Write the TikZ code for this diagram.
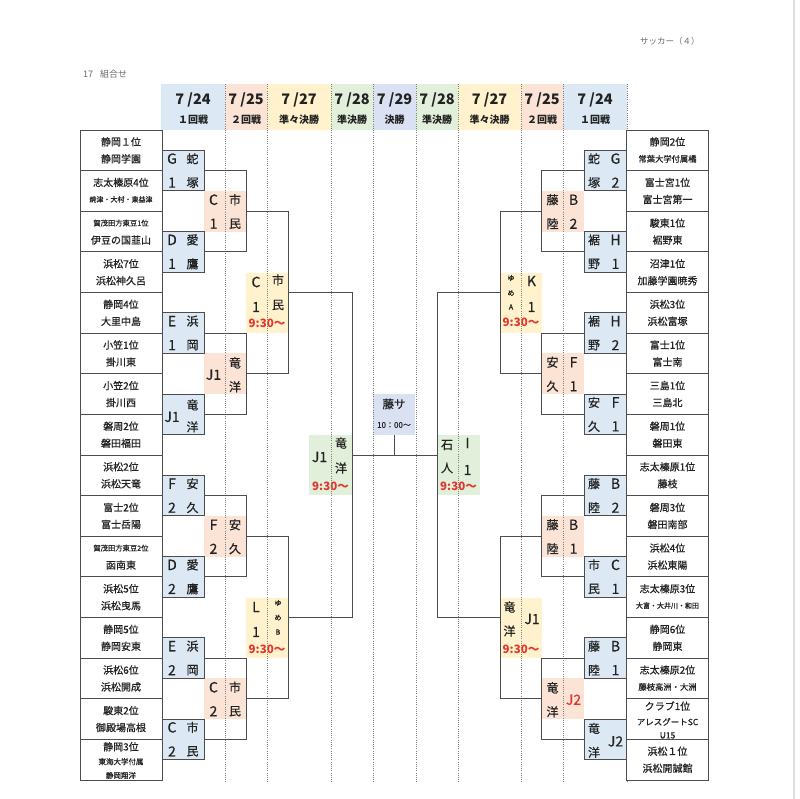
\documentclass[tikz,border=0pt]{standalone}
\usepackage{fontspec}
\setmainfont{Noto Sans CJK JP}
\newfontfamily\jpm{Noto Sans CJK JP}[FakeBold=0.6]
\usetikzlibrary{calc}
\definecolor{cblue}{HTML}{DCE9F5}
\definecolor{cpink}{HTML}{FBE3D6}
\definecolor{cyel}{HTML}{FFF2CC}
\definecolor{cgreen}{HTML}{E2EFDA}
\definecolor{clav}{HTML}{D9E1F2}
\definecolor{linec}{HTML}{4D4D4D}
\definecolor{tcol}{HTML}{222222}
\definecolor{cred}{HTML}{E0362C}
\newcommand\RowB[1]{(130+40.625*(#1))}
\newcommand\sm{\fontsize{7}{8}\selectfont}
\newcommand\smm{\fontsize{8.3}{9}\selectfont}
% team box: name, cx, row, line1, line2
\newcommand\Team[5]{%
 \node[team] (#1) at (#2,{\RowB{#3}-20.3125}) {};
 \node[tt] (#1a) at (#2,{\RowB{#3}-28.8}) {#4};
 \node[tt] (#1b) at (#2,{\RowB{#3}-11.8}) {#5};}
% left round 1
\newcommand\LRone[6]{%
 \node[r1] (#1) at (183,{\RowB{#2}}) {};
 \node[big] (#1x) at (172,{\RowB{#2}-12}) {#3};
 \node[big] (#1y) at (172,{\RowB{#2}+12}) {#4};
 \node[kj] (#1z) at (192.5,{\RowB{#2}-12}) {#5};
 \node[kj] (#1w) at (192.5,{\RowB{#2}+12}) {#6};}
% right round 1
\newcommand\RRone[6]{%
 \node[r1] (#1) at (605.5,{\RowB{#2}}) {};
 \node[kj] (#1z) at (594,{\RowB{#2}-12}) {#3};
 \node[kj] (#1w) at (594,{\RowB{#2}+12}) {#4};
 \node[big] (#1x) at (615.5,{\RowB{#2}-12}) {#5};
 \node[big] (#1y) at (615.5,{\RowB{#2}+12}) {#6};}
% left round 2
\newcommand\LRtwo[6]{%
 \node[r2] (#1) at (225,{\RowB{#2}}) {};
 \node[big] (#1x) at (213.5,{\RowB{#2}-11.5}) {#3};
 \node[big] (#1y) at (213.5,{\RowB{#2}+12.5}) {#4};
 \node[kj] (#1z) at (235,{\RowB{#2}-11.5}) {#5};
 \node[kj] (#1w) at (235,{\RowB{#2}+12.5}) {#6};}
% right round 2
\newcommand\RRtwo[6]{%
 \node[r2] (#1) at (563,{\RowB{#2}}) {};
 \node[kj] (#1z) at (552.5,{\RowB{#2}-11.5}) {#3};
 \node[kj] (#1w) at (552.5,{\RowB{#2}+12.5}) {#4};
 \node[big] (#1x) at (573.5,{\RowB{#2}-11.5}) {#5};
 \node[big] (#1y) at (573.5,{\RowB{#2}+12.5}) {#6};}
% header cell: name, cx, width, colour, date, round
\newcommand\Hd[6]{%
 \node[hd,fill=#4,minimum width=#3pt] (#1) at (#2,107) {};
 \node[hdate] (#1d) at (#2,100) {#5};
 \node[hround] (#1r) at (#2,119.5) {#6};}
\begin{document}
\begin{tikzpicture}[x=1pt,y=-1pt,
  team/.style={draw=linec,line width=0.9pt,fill=white,minimum width=82pt,minimum height=40.625pt,inner sep=0pt},
  r1/.style={draw=linec,line width=0.9pt,fill=cblue,minimum width=42pt,minimum height=40.6pt,inner sep=0pt},
  r2/.style={fill=cpink,minimum width=42pt,minimum height=41pt,inner sep=0pt},
  qf/.style={fill=cyel,minimum width=42pt,minimum height=60pt,inner sep=0pt},
  sf/.style={fill=cgreen,minimum width=43pt,minimum height=60pt,inner sep=0pt},
  fin/.style={fill=clav,minimum width=42pt,minimum height=41pt,inner sep=0pt},
  hd/.style={minimum height=46pt,inner sep=0pt},
  hdate/.style={inner sep=0pt,text=tcol,font=\bfseries\fontsize{14.5}{16}\selectfont},
  hround/.style={inner sep=0pt,text=tcol,font=\bfseries\fontsize{10}{12}\selectfont},
  tt/.style={inner sep=0pt,text=tcol,font=\jpm\fontsize{10}{12}\selectfont},
  big/.style={inner sep=0pt,text=tcol,font=\jpm\fontsize{14}{16}\selectfont},
  kj/.style={inner sep=0pt,text=tcol,font=\jpm\fontsize{12}{14}\selectfont},
  tinyt/.style={inner sep=0pt,text=tcol,font=\jpm\fontsize{7}{8}\selectfont},
  tm/.style={inner sep=0pt,text=cred,font=\bfseries\fontsize{11.5}{13}\selectfont},
  br/.style={draw=linec,line width=0.9pt},
  dotl/.style={draw=gray,line width=0.6pt,dash pattern=on 0.9pt off 1.3pt},
  note/.style={inner sep=0pt,text=gray!85!black,font=\fontsize{9}{11}\selectfont,anchor=west}
]
\useasboundingbox[fill=white] (0,0) rectangle (800,799);
\draw[gray!25,line width=1.5pt] (794,0) -- (794,799);

% titles
\node[note] (title) at (83,74) {17\hspace{7pt}組合せ};
\node[note,font=\fontsize{8.5}{10}\selectfont] (page) at (640,41) {サッカー（４）};

% header
\Hd{h1}{193}{64}{cblue}{7 /24}{１回戦}
\Hd{h2}{246}{42}{cpink}{7 /25}{２回戦}
\Hd{h3}{299}{64}{cyel}{7 /27}{準々決勝}
\Hd{h4}{352}{42}{cgreen}{7 /28}{準決勝}
\Hd{h5}{394.5}{43}{clav}{7 /29}{決勝}
\Hd{h6}{437}{42}{cgreen}{7 /28}{準決勝}
\Hd{h7}{489.5}{63}{cyel}{7 /27}{準々決勝}
\Hd{h8}{542}{42}{cpink}{7 /25}{２回戦}
\Hd{h9}{595}{64}{cblue}{7 /24}{１回戦}

% round 2
\LRtwo{LB1}{2}{C}{1}{市}{民}
\node[r2] (LB2) at (225,{\RowB{6}}) {};
\node[big] (LB2x) at (213.5,{\RowB{6}+1}) {J1};
\node[kj] (LB2z) at (235,{\RowB{6}-11}) {竜};
\node[kj] (LB2w) at (235,{\RowB{6}+13}) {洋};
\LRtwo{LB3}{10}{F}{2}{安}{久}
\LRtwo{LB4}{14}{C}{2}{市}{民}
\RRtwo{RB1}{2}{藤}{陸}{B}{2}
\RRtwo{RB2}{6}{安}{久}{F}{1}
\RRtwo{RB3}{10}{藤}{陸}{B}{1}
\node[r2] (RB4) at (563,{\RowB{14}}) {};
\node[kj] (RB4z) at (552.5,{\RowB{14}-11}) {竜};
\node[kj] (RB4w) at (552.5,{\RowB{14}+13}) {洋};
\node[big,text=cred] (RB4x) at (573.5,{\RowB{14}+1}) {J2};

% quarter finals
\node[qf] (LC1) at (267,{\RowB{4}+10.5}) {};
\node[big] (LC1x) at (256,{\RowB{4}-10.5}) {C};
\node[big] (LC1y) at (256,{\RowB{4}+14.5}) {1};
\node[kj] (LC1z) at (278,{\RowB{4}-12.5}) {市};
\node[kj] (LC1w) at (278,{\RowB{4}+12.5}) {民};
\node[tm] (LC1t) at (267,{\RowB{4}+30.5}) {9:30〜};
\node[qf] (LC2) at (267,{\RowB{12}+10}) {};
\node[big] (LC2x) at (256,{\RowB{12}-10.5}) {L};
\node[big] (LC2y) at (256,{\RowB{12}+14.5}) {1};
\node[tinyt] (LC2a) at (278,{\RowB{12}-14.5}) {ゆ};
\node[tinyt] (LC2b) at (278,{\RowB{12}}) {め};
\node[tinyt] (LC2c) at (278,{\RowB{12}+14.5}) {B};
\node[tm] (LC2t) at (267,{\RowB{12}+31.5}) {9:30〜};
\node[qf] (RC1) at (521,{\RowB{4}+10.5}) {};
\node[tinyt] (RC1a) at (511,{\RowB{4}-14.5}) {ゆ};
\node[tinyt] (RC1b) at (511,{\RowB{4}+0.5}) {め};
\node[tinyt] (RC1c) at (511,{\RowB{4}+14.5}) {A};
\node[big] (RC1x) at (531.5,{\RowB{4}-11.5}) {K};
\node[big] (RC1y) at (531.5,{\RowB{4}+14.5}) {1};
\node[tm] (RC1t) at (521,{\RowB{4}+29.5}) {9:30〜};
\node[qf] (RC2) at (521,{\RowB{12}+10}) {};
\node[kj] (RC2z) at (509.5,{\RowB{12}-10.5}) {竜};
\node[kj] (RC2w) at (509.5,{\RowB{12}+13.5}) {洋};
\node[big] (RC2x) at (532,{\RowB{12}+1.5}) {J1};
\node[tm] (RC2t) at (521,{\RowB{12}+31.5}) {9:30〜};

% semi finals
\node[sf] (LD) at (330.5,{\RowB{8}+10}) {};
\node[big] (LDx) at (319.5,{\RowB{8}+2}) {J1};
\node[kj] (LDz) at (341,{\RowB{8}-12}) {竜};
\node[kj] (LDw) at (341,{\RowB{8}+13}) {洋};
\node[tm] (LDt) at (330.5,{\RowB{8}+31}) {9:30〜};
\node[sf] (RD) at (458.5,{\RowB{8}+10}) {};
\node[kj] (RDz) at (447,{\RowB{8}-10}) {石};
\node[kj] (RDw) at (447,{\RowB{8}+13}) {人};
\node[big] (RDx) at (467.5,{\RowB{8}-12}) {I};
\node[big] (RDy) at (467.5,{\RowB{8}+15}) {1};
\node[tm] (RDt) at (458.5,{\RowB{8}+31}) {9:30〜};

% final
\node[fin] (F) at (394,{\RowB{7}}) {};
\node[kj,font=\jpm\fontsize{11.5}{13}\selectfont] (Fa) at (394,404) {藤サ};
\node[tinyt,font=\jpm\fontsize{8}{9}\selectfont] (Fb) at (394,425) {10：00〜};

% dotted column lines
\foreach \xx in {225,267,331,373,416,458,521,563,627}
  \draw[dotl] (\xx,84) -- (\xx,782);

% teams, left
\Team{L1}{121}{1}{静岡１位}{静岡学園}
\Team{L2}{121}{2}{志太榛原4位}{{\sm 焼津・大村・東益津}}
\Team{L3}{121}{3}{{\fontsize{7.3}{8}\selectfont 賀茂田方東豆1位}}{伊豆の国韮山}
\Team{L4}{121}{4}{浜松7位}{浜松神久呂}
\Team{L5}{121}{5}{静岡4位}{大里中島}
\Team{L6}{121}{6}{小笠1位}{掛川東}
\Team{L7}{121}{7}{小笠2位}{掛川西}
\Team{L8}{121}{8}{磐周2位}{磐田福田}
\Team{L9}{121}{9}{浜松2位}{浜松天竜}
\Team{L10}{121}{10}{富士2位}{富士岳陽}
\Team{L11}{121}{11}{{\fontsize{7.3}{8}\selectfont 賀茂田方東豆2位}}{函南東}
\Team{L12}{121}{12}{浜松5位}{浜松曳馬}
\Team{L13}{121}{13}{静岡5位}{静岡安東}
\Team{L14}{121}{14}{浜松6位}{浜松開成}
\Team{L15}{121}{15}{駿東2位}{御殿場高根}
\node[team] (L16) at (121,{\RowB{16}-20.3125}) {};
\node[tt] (L16a) at (121,{\RowB{16}-33.3}) {静岡3位};
\node[tt,font=\jpm\fontsize{7.5}{8}\selectfont] (L16b) at (121,{\RowB{16}-18.3}) {東海大学付属};
\node[tt,font=\jpm\fontsize{7.5}{8}\selectfont] (L16c) at (121,{\RowB{16}-4.5}) {静岡翔洋};

% teams, right
\Team{R1}{667.5}{1}{静岡2位}{{\smm 常葉大学付属橘}}
\Team{R2}{667.5}{2}{富士宮1位}{富士宮第一}
\Team{R3}{667.5}{3}{駿東1位}{裾野東}
\Team{R4}{667.5}{4}{沼津1位}{加藤学園暁秀}
\Team{R5}{667.5}{5}{浜松3位}{浜松富塚}
\Team{R6}{667.5}{6}{富士1位}{富士南}
\Team{R7}{667.5}{7}{三島1位}{三島北}
\Team{R8}{667.5}{8}{磐周1位}{磐田東}
\Team{R9}{667.5}{9}{志太榛原1位}{藤枝}
\Team{R10}{667.5}{10}{磐周3位}{磐田南部}
\Team{R11}{667.5}{11}{浜松4位}{浜松東陽}
\Team{R12}{667.5}{12}{志太榛原3位}{{\sm 大富・大井川・和田}}
\Team{R13}{667.5}{13}{静岡6位}{静岡東}
\Team{R14}{667.5}{14}{志太榛原2位}{{\smm 藤枝高洲・大洲}}
\node[team] (R15) at (667.5,{\RowB{15}-20.3125}) {};
\node[tt] (R15a) at (667.5,{\RowB{15}-33.3}) {クラブ1位};
\node[tt,font=\jpm\fontsize{8.5}{9}\selectfont] (R15b) at (667.5,{\RowB{15}-17.5}) {アレスグートSC};
\node[tt,font=\jpm\fontsize{8.5}{9}\selectfont] (R15c) at (667.5,{\RowB{15}-4}) {U15};
\Team{R16}{667.5}{16}{浜松１位}{浜松開誠館}

% round 1
\LRone{LA1}{1}{G}{1}{蛇}{塚}
\LRone{LA2}{3}{D}{1}{愛}{鷹}
\LRone{LA3}{5}{E}{1}{浜}{岡}
\node[r1] (LA4) at (183,{\RowB{7}}) {};
\node[big] (LA4x) at (172,{\RowB{7}+2.5}) {J1};
\node[kj] (LA4z) at (192.5,{\RowB{7}-9.5}) {竜};
\node[kj] (LA4w) at (192.5,{\RowB{7}+12.5}) {洋};
\LRone{LA5}{9}{F}{2}{安}{久}
\LRone{LA6}{11}{D}{2}{愛}{鷹}
\LRone{LA7}{13}{E}{2}{浜}{岡}
\LRone{LA8}{15}{C}{2}{市}{民}
\RRone{RA1}{1}{蛇}{塚}{G}{2}
\RRone{RA2}{3}{裾}{野}{H}{1}
\RRone{RA3}{5}{裾}{野}{H}{2}
\RRone{RA4}{7}{安}{久}{F}{1}
\RRone{RA5}{9}{藤}{陸}{B}{2}
\RRone{RA6}{11}{市}{民}{C}{1}
\RRone{RA7}{13}{藤}{陸}{B}{1}
\node[r1] (RA8) at (605.5,{\RowB{15}}) {};
\node[kj] (RA8z) at (594,{\RowB{15}-11}) {竜};
\node[kj] (RA8w) at (594,{\RowB{15}+13}) {洋};
\node[big] (RA8x) at (615.5,{\RowB{15}+2}) {J2};

% connection points
\coordinate (LC1o) at (288,{\RowB{4}});
\coordinate (LC2o) at (288,{\RowB{12}});
\coordinate (RC1o) at (500,{\RowB{4}});
\coordinate (RC2o) at (500,{\RowB{12}});
\coordinate (LDo) at (352,{\RowB{8}});
\coordinate (RDo) at (437,{\RowB{8}});

% brackets round 1 -> round 2
\draw[br] (LA1.east) -- (LA1.east -| LB1.east) -- (LA2.east -| LB1.east) -- (LA2.east);
\draw[br] (LA3.east) -- (LA3.east -| LB2.east) -- (LA4.east -| LB2.east) -- (LA4.east);
\draw[br] (LA5.east) -- (LA5.east -| LB3.east) -- (LA6.east -| LB3.east) -- (LA6.east);
\draw[br] (LA7.east) -- (LA7.east -| LB4.east) -- (LA8.east -| LB4.east) -- (LA8.east);
\draw[br] (RA1.west) -- (RA1.west -| RB1.west) -- (RA2.west -| RB1.west) -- (RA2.west);
\draw[br] (RA3.west) -- (RA3.west -| RB2.west) -- (RA4.west -| RB2.west) -- (RA4.west);
\draw[br] (RA5.west) -- (RA5.west -| RB3.west) -- (RA6.west -| RB3.west) -- (RA6.west);
\draw[br] (RA7.west) -- (RA7.west -| RB4.west) -- (RA8.west -| RB4.west) -- (RA8.west);
% round 2 -> quarter finals
\draw[br] (LB1.east) -- (LB1.east -| LC1o) -- (LB2.east -| LC1o) -- (LB2.east);
\draw[br] (LB3.east) -- (LB3.east -| LC2o) -- (LB4.east -| LC2o) -- (LB4.east);
\draw[br] (RB1.west) -- (RB1.west -| RC1o) -- (RB2.west -| RC1o) -- (RB2.west);
\draw[br] (RB3.west) -- (RB3.west -| RC2o) -- (RB4.west -| RC2o) -- (RB4.west);
% quarter finals -> semi finals
\draw[br] (LC1o) -- (LC1o -| LDo) -- (LC2o -| LDo) -- (LC2o);
\draw[br] (RC1o) -- (RC1o -| RDo) -- (RC2o -| RDo) -- (RC2o);
% semi finals -> final
\draw[br] (LDo) -- (RDo);
\draw[br] (F.south) -- (F.south |- LDo);
\end{tikzpicture}
\end{document}
